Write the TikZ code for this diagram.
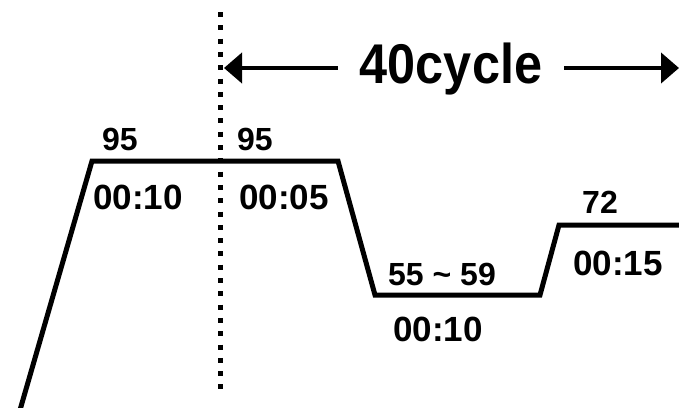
\documentclass[tikz,border=0pt]{standalone}
\usepackage{fontspec}
\setmainfont{Liberation Sans}
\newfontfamily\narrowsans{Liberation Sans}[FakeStretch=0.9]
\usetikzlibrary{arrows.meta}
\tikzset{
  profile/.style={line width=5pt, line join=miter},
  divider/.style={line width=5pt, dash pattern=on 5pt off 8.3pt},
  span/.style={line width=4pt, -{Triangle[length=18pt,width=30pt]}},
  templbl/.style={font=\bfseries\fontsize{32}{32}\selectfont, anchor=base, inner sep=0pt},
  timelbl/.style={font=\bfseries\fontsize{35}{35}\selectfont, anchor=base, inner sep=0pt},
  cyclelbl/.style={font=\narrowsans\bfseries\fontsize{56}{56}\selectfont, anchor=base, inner xsep=22pt, inner ysep=0pt}
}
\begin{document}
\begin{tikzpicture}[x=1pt,y=-1pt]
\useasboundingbox (0,0) rectangle (679,407);

% temperature profile
\coordinate (p0) at (20,410);
\coordinate (p1) at (92,161);
\coordinate (p2) at (338,161);
\coordinate (p3) at (375,295);
\coordinate (p4) at (540,295);
\coordinate (p5) at (559,225);
\coordinate (p6) at (682,225);
\draw[profile] (p0) -- (p1) -- (p2) -- (p3) -- (p4) -- (p5) -- (p6);

% start of the repeated cycle
\coordinate (d0) at (220,12);
\coordinate (d1) at (220,390);
\draw[divider] (d0) -- (d1);

% cycle span arrow
\node[cyclelbl] (cyc) at (451,83) {40cycle};
\coordinate (ltip) at (224,68);
\coordinate (rtip) at (679,68);
\coordinate (lstart) at (cyc.west |- ltip);
\coordinate (rstart) at (cyc.east |- rtip);
\draw[span] (lstart) -- (ltip);
\draw[span] (rstart) -- (rtip);

% step labels
\node[templbl] (t1) at (120,150) {95};
\node[templbl] (t2) at (255,150) {95};
\node[templbl] (t3) at (442,285) {55 \char"007E{} 59};
\node[templbl] (t4) at (600,213) {72};

\node[timelbl] (s1) at (138,209) {00:10};
\node[timelbl] (s2) at (284,209) {00:05};
\node[timelbl] (s3) at (438,341) {00:10};
\node[timelbl] (s4) at (618,275) {00:15};
\end{tikzpicture}
\end{document}
